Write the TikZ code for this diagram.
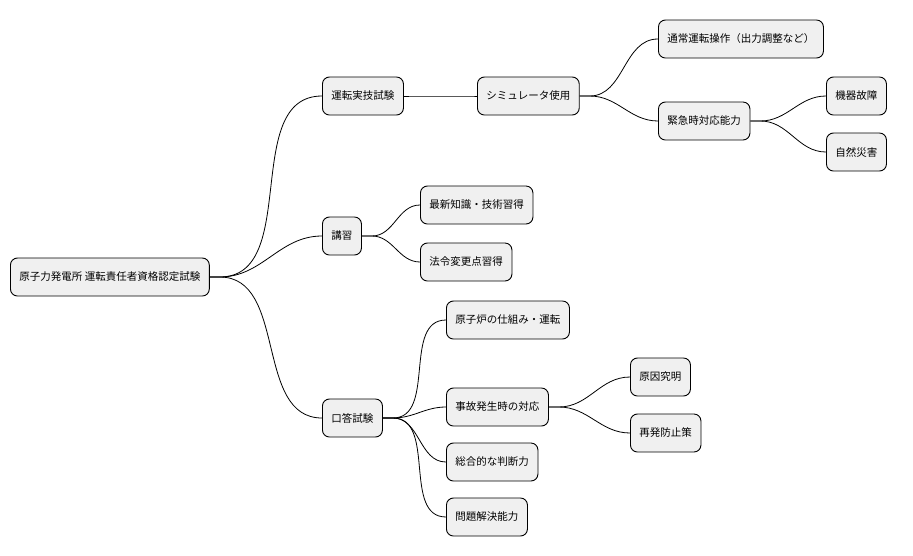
\documentclass[tikz,border=0pt]{standalone}
\usepackage{fontspec}
\setmainfont{Noto Sans CJK JP}
\begin{document}
\begin{tikzpicture}[
      x=1pt,y=-1pt,
      every node/.style={font=\fontsize{10.5}{12}\selectfont},
      box/.style={draw,line width=0.9pt,rounded corners=7pt,fill=gray!12,
        minimum height=38pt,inner xsep=9pt,anchor=west},
      link/.style={line width=0.8pt}
    ]
      \useasboundingbox (0,0) rectangle (913,555);
      % root and branches
      \node[box] (root) at (10,277) {原子力発電所 運転責任者資格認定試験};
      \node[box] (prac) at (322,96) {運転実技試験};
      \node[box] (sim) at (477,96) {シミュレータ使用};
      \node[box] (norm) at (658,39) {通常運転操作（出力調整など）};
      \node[box] (emer) at (658,121) {緊急時対応能力};
      \node[box] (fail) at (826,96) {機器故障};
      \node[box] (dis) at (826,152) {自然災害};
      \node[box] (lect) at (322,236) {講習};
      \node[box] (know) at (420,205) {最新知識・技術習得};
      \node[box] (law) at (420,262) {法令変更点習得};
      \node[box] (oral) at (322,418) {口答試験};
      \node[box] (mech) at (446,320) {原子炉の仕組み・運転};
      \node[box] (acc) at (446,407) {事故発生時の対応};
      \node[box] (cause) at (630,377) {原因究明};
      \node[box] (prev) at (630,433) {再発防止策};
      \node[box] (judg) at (446,462) {総合的な判断力};
      \node[box] (solve) at (446,517) {問題解決能力};
      % connectors
      \foreach \p/\c in {root/prac,root/lect,root/oral,prac/sim,sim/norm,sim/emer,
          emer/fail,emer/dis,lect/know,lect/law,oral/mech,oral/acc,oral/judg,
          oral/solve,acc/cause,acc/prev}
        \draw[link] (\p.east) -- ++(10,0) to[out=0,in=180] (\c.west);
    \end{tikzpicture}
\end{document}
